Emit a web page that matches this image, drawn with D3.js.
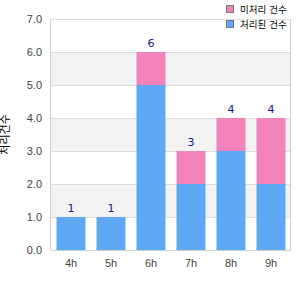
<!DOCTYPE html>
<html lang="ko">
<head>
    <meta charset="UTF-8">
    <script src="https://d3js.org/d3.v7.min.js"></script>
    <style>
        body { margin: 0; background: #fff; font-family: "DejaVu Sans", "Noto Sans CJK KR", sans-serif; }
        .tick text { font-size: 11px; fill: #444; }
        .label { font-size: 11px; fill: #1a1a8c; text-anchor: middle; }
        .legend text { font-size: 9.5px; fill: #000; }
    </style>
</head>
<body>
    <svg id="chart"></svg>
    <script>
        const hours = ["4h", "5h", "6h", "7h", "8h", "9h"];
        const doneCounts = [1, 1, 5, 2, 3, 2];
        const pendingCounts = [0, 0, 1, 1, 1, 2];
        const yTicks = [0, 1, 2, 3, 4, 5, 6, 7];
        const seriesNames = ["처리된 건수", "미처리 건수"];
        const yTitle = "처리건수";

        const data = hours.map((h, i) => ({
            hour: h, done: doneCounts[i], pending: pendingCounts[i],
            total: doneCounts[i] + pendingCounts[i]
        }));

        const margin = {top: 19, right: 9, bottom: 50, left: 51},
            width = 300, height = 300;

        const svg = d3.select("#chart")
            .attr("width", width)
            .attr("height", height);

        const x = d3.scaleBand()
            .domain(hours)
            .range([margin.left, width - margin.right])
            .paddingInner(0.275)
            .paddingOuter(0.1375);

        const y = d3.scaleLinear()
            .domain([0, 7])
            .range([height - margin.bottom, margin.top]);

        // alternating bands
        svg.selectAll(".band")
            .data([1, 3, 5])
            .enter()
            .append("rect")
            .attr("x", margin.left)
            .attr("width", width - margin.right - margin.left)
            .attr("y", d => y(d + 1))
            .attr("height", d => y(d) - y(d + 1))
            .attr("fill", "#f2f2f2");

        svg.selectAll(".grid")
            .data(yTicks)
            .enter()
            .append("line")
            .attr("x1", margin.left)
            .attr("x2", width - margin.right)
            .attr("y1", d => y(d) + 0.5)
            .attr("y2", d => y(d) + 0.5)
            .attr("stroke", "#dcdcdc");

        [margin.left, width - margin.right].forEach(xx => {
            svg.append("line")
                .attr("x1", xx - 0.5).attr("x2", xx - 0.5)
                .attr("y1", y(7)).attr("y2", y(0))
                .attr("stroke", "#d0d0d0");
        });

        const yAxis = svg.append("g")
            .attr("transform", `translate(${margin.left},0)`)
            .call(d3.axisLeft(y).tickValues(yTicks).tickFormat(d3.format(".1f")).tickSize(0).tickPadding(9));
        yAxis.select(".domain").remove();

        const xAxis = svg.append("g")
            .attr("transform", `translate(0,${y(0)})`)
            .call(d3.axisBottom(x).tickSize(0).tickPadding(9));
        xAxis.select(".domain").remove();

        svg.append("line")
            .attr("x1", margin.left).attr("x2", width - margin.right)
            .attr("y1", y(0) + 0.5).attr("y2", y(0) + 0.5)
            .attr("stroke", "#d0d0d0");

        // stacked bars
        svg.selectAll(".bar-done")
            .data(data)
            .enter()
            .append("rect")
            .attr("x", d => x(d.hour))
            .attr("width", x.bandwidth())
            .attr("y", d => y(d.done))
            .attr("height", d => y(0) - y(d.done))
            .attr("fill", "#5fa8f4");

        svg.selectAll(".bar-pending")
            .data(data.filter(d => d.pending > 0))
            .enter()
            .append("rect")
            .attr("x", d => x(d.hour))
            .attr("width", x.bandwidth())
            .attr("y", d => y(d.total))
            .attr("height", d => y(d.done) - y(d.total))
            .attr("fill", "#f283bb");

        svg.selectAll(".label")
            .data(data)
            .enter()
            .append("text")
            .attr("class", "label")
            .attr("x", d => x(d.hour) + x.bandwidth() / 2)
            .attr("y", d => y(d.total) - 5)
            .text(d => d.total);

        svg.append("text")
            .attr("transform", `translate(9,${(y(0) + y(7)) / 2}) rotate(-90)`)
            .attr("text-anchor", "middle")
            .attr("font-size", 11)
            .attr("fill", "#000")
            .text(yTitle);

        // legend
        const legendItems = [
            {name: seriesNames[1], color: "#f283bb"},
            {name: seriesNames[0], color: "#5fa8f4"}
        ];
        const legend = svg.append("g").attr("class", "legend");
        legendItems.forEach((d, i) => {
            legend.append("rect")
                .attr("x", 226.5).attr("y", 5.5 + i * 15)
                .attr("width", 7).attr("height", 7)
                .attr("fill", d.color)
                .attr("stroke", "#777");
            legend.append("text")
                .attr("x", 240).attr("y", 13 + i * 15)
                .text(d.name);
        });
    </script>
</body>
</html>
